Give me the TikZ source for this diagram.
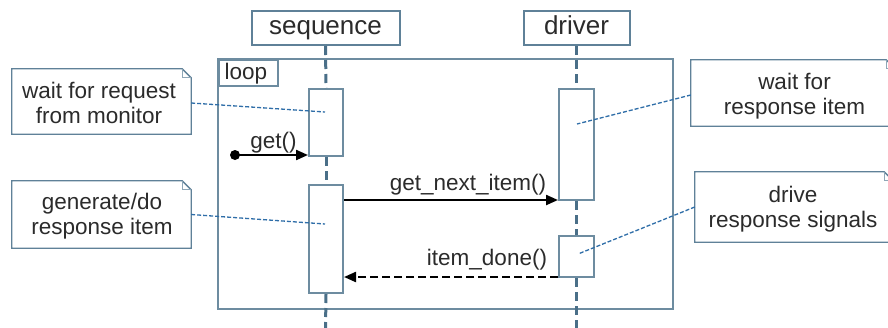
\documentclass[tikz,border=0pt]{standalone}
\usepackage{fontspec}
\setmainfont{Liberation Sans}
\usetikzlibrary{arrows.meta}
\definecolor{txt}{HTML}{2B2B2B}
\definecolor{boxline}{HTML}{5F8198}
\definecolor{frameline}{HTML}{6D8CA0}
\definecolor{lifeline}{HTML}{4A6F88}
\definecolor{notelink}{HTML}{2F6EA8}
\newcommand{\headfont}{\fontsize{26}{30}\selectfont}
\newcommand{\labelfont}{\fontsize{22.5}{25}\selectfont}
\tikzset{
  header/.style={draw=boxline, line width=2pt, fill=white, inner sep=0pt,
    font=\headfont, text=txt, minimum height=34pt, text height=19pt, text depth=6pt},
  actbox/.style={draw=frameline, line width=2pt, fill=white, inner sep=0pt,
    minimum width=34pt},
  lifedash/.style={draw=lifeline, line width=3pt, dash pattern=on 9pt off 5pt},
  notebox/.style={inner sep=0pt, align=center, font=\labelfont, text=txt},
  noteline/.style={draw=boxline, line width=1.3pt, fill=white, line join=miter},
  foldline/.style={draw=boxline!70, line width=0.8pt},
  notelinkstyle/.style={draw=notelink, line width=1.3pt, dash pattern=on 4pt off 2pt},
  msg/.style={draw=black, line width=2.2pt, -{Triangle[length=12pt,width=10pt]}},
  reply/.style={msg, dash pattern=on 8pt off 4pt},
  msglabel/.style={font=\labelfont, text=txt, inner sep=0pt, anchor=base},
}
\begin{document}
\begin{tikzpicture}[x=1pt, y=-1pt]
\useasboundingbox (0,0) rectangle (888,327);
\clip (0,0) rectangle (888,327);
\fill[white] (0,0) rectangle (888,327);

% loop frame
\draw[frameline, line width=2pt] (218,59) rectangle (673,309);
\node[draw=frameline, line width=1.6pt, inner sep=0pt, minimum width=59pt, minimum height=26pt,
      anchor=north west] (looplabel) at (218,59) {};
\node[font=\labelfont, text=txt, inner sep=0pt, anchor=base west] (looptext) at (224.5,79) {loop};

% lifeline headers
\node[header, minimum width=148pt] (seq) at (325.5,28) {sequence};
\node[header, minimum width=106pt] (drv) at (576.5,28) {driver};

% bottom ends of the lifelines
\coordinate (seqend) at (325.5,330);
\coordinate (drvend) at (576.5,330);

% activation bars
\node[actbox, minimum height=67pt]  (seqA) at (326,122.5) {};
\node[actbox, minimum height=108pt] (seqB) at (326,239) {};
\node[actbox, minimum width=35pt, minimum height=111pt] (drvA) at (576.5,144.5) {};
\node[actbox, minimum width=35pt, minimum height=41pt]  (drvB) at (576.5,256.5) {};

% lifelines between bars
\draw[lifedash] (seq.south) -- (seqA.north);
\draw[lifedash] (seqA.south) -- (seqB.north);
\draw[lifedash] (seqB.south) -- (seqend);
\draw[lifedash] (drv.south) -- (drvA.north);
\draw[lifedash] (drvA.south) -- (drvB.north);
\draw[lifedash] (drvB.south) -- (drvend);

% messages
\coordinate (getstart) at (235,155);
\fill[black] (getstart) circle (5pt);
\draw[msg] (getstart) -- (seqA.south west |- getstart);
\node[msglabel] (getlbl) at (273.5,148) {get()};

\draw[msg] (seqB.east |- 0,200) -- (drvA.west |- 0,200);
\node[msglabel] (nextlbl) at (468,190) {get\_next\_item()};

\draw[reply] (drvB.west |- 0,277) -- (seqB.east |- 0,277);
\node[msglabel] (donelbl) at (487,265) {item\_done()};

% notes
\node[notebox, minimum width=179pt, minimum height=65pt] (n1) at (101.5,101.5) {};
\node[notebox, minimum width=179pt, minimum height=67pt] (n2) at (101.5,214.5) {};
\node[notebox, minimum width=204pt, minimum height=66pt] (n3) at (793,93) {};
\node[notebox, minimum width=198pt, minimum height=70pt] (n4) at (794,207) {};
\foreach \n in {n1,n2,n3,n4}{
  \draw[noteline] (\n.north west) -- ([xshift=-9pt]\n.north east)
    -- ([yshift=-9pt]\n.north east) -- (\n.south east) -- (\n.south west) -- cycle;
  \draw[foldline] ([xshift=-9pt]\n.north east) -- ([xshift=-9pt,yshift=-9pt]\n.north east)
    -- ([yshift=-9pt]\n.north east);
}
\node[notebox] (t1) at (99,103) {wait for request\\from monitor};
\node[notebox] (t2) at (102,216) {generate/do\\response item};
\node[notebox] (t3) at (794.5,96) {wait for\\response item};
\node[notebox] (t4) at (793,209) {drive\\response signals};

% note links
\coordinate (c1) at (325,112);
\coordinate (c2) at (325,224);
\coordinate (c3) at (577,124);
\coordinate (c4) at (578,254);
\draw[notelinkstyle] ([yshift=-1.5pt]n1.east) -- (c1);
\draw[notelinkstyle] (n2.east) -- (c2);
\draw[notelinkstyle] ([yshift=-2pt]n3.west) -- (c3);
\draw[notelinkstyle] (n4.west) -- (c4);
\end{tikzpicture}
\end{document}
